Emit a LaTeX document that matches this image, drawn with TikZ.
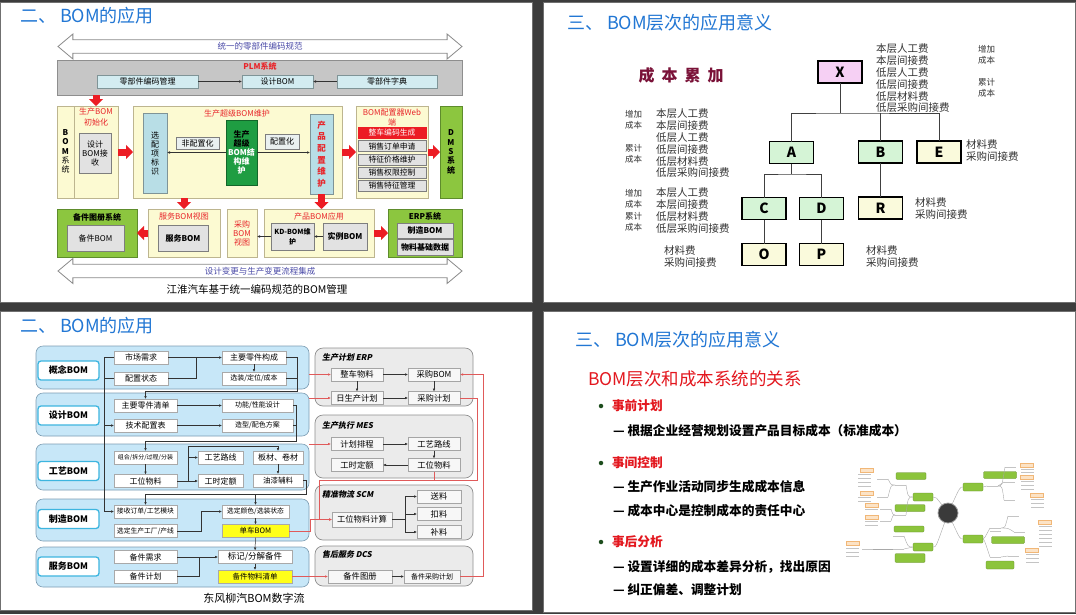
\documentclass[tikz,border=0pt]{standalone}
\usepackage{fontspec}
\setmainfont{Noto Sans CJK SC}
\newfontfamily\slfont[FakeSlant=0.2]{Noto Sans CJK SC}
\usetikzlibrary{arrows.meta, positioning, shapes.arrows, calc}

\definecolor{PageGray}{HTML}{3C3C3C}
\definecolor{PanelEdge}{HTML}{707070}
\definecolor{TitleBlue}{HTML}{2277D4}
\definecolor{YelFill}{HTML}{FCFAD2}
\definecolor{YelEdge}{HTML}{BDB58F}
\definecolor{CyFill}{HTML}{D3ECF1}
\definecolor{CyDeep}{HTML}{B8DEE6}
\definecolor{CyEdge}{HTML}{7F9497}
\definecolor{GyFill}{HTML}{E2E2E2}
\definecolor{GyLite}{HTML}{EAF0F0}
\definecolor{GyEdge}{HTML}{7E7E7E}
\definecolor{PlmGray}{HTML}{C6C6C6}
\definecolor{PlmEdge}{HTML}{8E8E8E}
\definecolor{GrFill}{HTML}{8CC63F}
\definecolor{GrEdge}{HTML}{5E8C2C}
\definecolor{CoreGreen}{HTML}{1F9D42}
\definecolor{CoreEdge}{HTML}{14662A}
\definecolor{ArrowRed}{HTML}{EC1C24}
\definecolor{RedTxt}{HTML}{E8262B}
\definecolor{PurpleTxt}{HTML}{4B4BA8}
\definecolor{HollowEdge}{HTML}{8A8A8A}
\definecolor{Maroon}{HTML}{7A1238}
\definecolor{TreeGreen}{HTML}{D5F4D6}
\definecolor{TreeYellow}{HTML}{FAFADC}
\definecolor{TreePink}{HTML}{F6D0F4}
\definecolor{CostGray}{HTML}{333333}
\definecolor{BandBlue}{HTML}{C7E7F8}
\definecolor{BandEdge}{HTML}{7D9DB3}
\definecolor{LvlEdge}{HTML}{3DB5DF}
\definecolor{WEdge}{HTML}{A9A9A9}
\definecolor{HiYellow}{HTML}{FFFF1A}
\definecolor{SysGray}{HTML}{EBEBEB}
\definecolor{SysEdge}{HTML}{8F8F8F}
\definecolor{GbxFill}{HTML}{F7F7F7}
\definecolor{GbxEdge}{HTML}{A5A5A5}
\definecolor{RedLine}{HTML}{E05A5A}
\definecolor{SubRed}{HTML}{E3171E}
\definecolor{DotGreen}{HTML}{1D4D1D}
\definecolor{MapGreen}{HTML}{8CC43C}
\definecolor{MapOrange}{HTML}{FCE3C6}
\definecolor{MapOrEdge}{HTML}{F1B777}
\definecolor{MapTxt}{HTML}{C4C4C4}
\definecolor{MapLine}{HTML}{A8A8A8}
\definecolor{MapDark}{HTML}{3A3A3A}

\newcommand{\fsz}[2]{\fontsize{#1}{#2}\selectfont}

\begin{document}
\begin{tikzpicture}[x=1pt, y=-1pt,
    every node/.style={inner sep=0pt, outer sep=0pt},
    panel/.style={fill=white, draw=PanelEdge, line width=0.8pt},
    slidetitle/.style={anchor=west, text=TitleBlue, font=\fsz{18}{21}},
    ylbox/.style={draw=YelEdge, fill=YelFill, line width=0.6pt},
    cybox/.style={draw=CyEdge, fill=CyFill, line width=0.5pt, font=\fsz{8}{9}},
    gybox/.style={draw=GyEdge, fill=GyFill, line width=0.5pt, font=\fsz{8}{9}},
    grbox/.style={draw=GrEdge, fill=GrFill, line width=0.6pt},
    redhead/.style={text=RedTxt, font=\fsz{8}{10.5}},
    hollow/.style={double arrow, draw=HollowEdge, fill=white, line width=0.8pt, inner ysep=2pt,
                   minimum height=404, minimum width=25, double arrow head extend=5.5,
                   double arrow tip angle=80, text=PurpleTxt, font=\fsz{8.5}{10}},
    blockarr/.style={draw=ArrowRed, line width=7pt, -{Triangle[length=7pt, width=14pt]}},
    conn/.style={draw=black!80, line width=0.5pt},
    arr/.style={-{Latex[length=3pt, width=2.6pt]}},
    redln/.style={draw=RedLine, line width=0.6pt},
    treebox/.style={draw=black, line width=1.2pt, minimum width=44, minimum height=22,
                    font=\bfseries\fsz{14}{16}},
    treeln/.style={draw=black!75, line width=0.8pt},
    cost/.style={anchor=west, align=left, text=CostGray, font=\fsz{10.5}{11.8}},
    costsm/.style={anchor=west, align=left, text=CostGray, font=\fsz{8.5}{11}},
    band/.style={rounded corners=7pt, fill=BandBlue, draw=BandEdge, line width=0.6pt,
                 minimum width=273},
    lvl/.style={rounded corners=3pt, fill=white, draw=LvlEdge, line width=1.3pt,
                minimum width=61, minimum height=19, font=\bfseries\fsz{9}{10}},
    wbox/.style={fill=white, draw=WEdge, line width=0.5pt, minimum height=13, font=\fsz{8}{9}},
    sysbox/.style={rounded corners=8pt, fill=SysGray, draw=SysEdge, line width=0.7pt,
                   minimum width=158},
    systitle/.style={anchor=west, font=\slfont\bfseries\fsz{8}{9}},
    gbx/.style={fill=GbxFill, draw=GbxEdge, line width=0.5pt, minimum height=13,
                font=\fsz{8.3}{9}},
    bhead/.style={anchor=west, text=SubRed, font=\bfseries\fsz{12.7}{14}},
    bline/.style={anchor=west, font=\bfseries\fsz{12.7}{14}},
    mapg/.style={fill=MapGreen, draw=MapGreen!70!black, line width=0.3pt, rounded corners=1pt},
    mapo/.style={fill=MapOrange, draw=MapOrEdge, line width=0.3pt, minimum width=13,
                 minimum height=4.5},
    mapln/.style={draw=MapLine, line width=0.4pt},
    maptxt/.style={draw=MapTxt, line width=1pt}
]
\useasboundingbox (0,0) rectangle (1076,614);
\fill[PageGray] (0,0) rectangle (1076,614);
\draw[panel] (0.5,2) rectangle (532,302);
\draw[panel] (543,2) rectangle (1075.5,302);
\draw[panel] (0.5,311) rectangle (532,610);
\draw[panel] (543,311) rectangle (1075.5,612);

% top left slide
\node[slidetitle] (tl-title) at (20,16) {二、 BOM的应用};
\node[hollow] (std) at (260,46.5) {统一的零部件编码规范};
\node[draw=PlmEdge, fill=PlmGray, line width=0.6pt, minimum width=405, minimum height=35] (plm) at (259.5,77.5) {};
\node[text=RedTxt, font=\bfseries\fsz{8}{9}] (plm-t) at (260,66) {PLM系统};
\node[cybox, minimum width=101, minimum height=13] (code) at (147.5,81.5) {零部件编码管理};
\node[cybox, minimum width=71, minimum height=13] (dbom) at (277.5,81.5) {设计BOM};
\node[cybox, minimum width=100, minimum height=13] (dict) at (387,81.5) {零部件字典};
\draw[conn, arr] (code) -- (dbom);
\draw[conn, arr] (dict) -- (dbom);

\node[ylbox, minimum width=61, minimum height=92] (bomsys) at (87.5,152) {};
\draw[draw=YelEdge, line width=0.6pt] ($(bomsys.north west)+(17,0)$) -- ($(bomsys.south west)+(17,0)$);
\node[align=center, font=\bfseries\fsz{8}{9.3}] (bomsys-t) at (65.5,151.5) {B\\O\\M\\\mdseries 系\\\mdseries 统};
\node[redhead, align=center] (init) at (96,117) {生产BOM\\初始化};
\node[gybox, minimum width=32, minimum height=40, align=center] (recv) at (95,153) {设计\\BOM接\\收};
\draw[blockarr] (plm.south -| init) -- (init |- bomsys.north);

\node[ylbox, minimum width=209, minimum height=92] (super) at (237.5,152) {};
\node[redhead] (super-t) at (237,113) {生产超级BOM维护};
\node[cybox, fill=CyDeep, minimum width=24, minimum height=80, align=center] (xpx) at (155,153) {选\\配\\项\\标\\识};
\node[gybox, fill=GyLite, minimum width=43, minimum height=12] (nonc) at (197.5,143) {非配置化};
\node[draw=CoreEdge, fill=CoreGreen, minimum width=31, minimum height=65, align=center, font=\bfseries\fsz{8}{9}] (core) at (241.5,152.5)
  {生产\\超级\\\textcolor{white}{BOM结}\\\textcolor{white}{构维}\\\textcolor{white}{护}};
\node[gybox, fill=GyLite, minimum width=34, minimum height=15] (conf) at (282,141.5) {配置化};
\node[cybox, fill=CyDeep, minimum width=23, minimum height=80, align=center, text=RedTxt, font=\bfseries\fsz{8.5}{11.6}] (cpcf) at (321.5,154) {产\\品\\配\\置\\维\\护};
\draw[conn, arr] (core.west) -- (core.west -| xpx.east);
\draw[conn, arr] (core.east) -- (core.east -| cpcf.west);

\node[ylbox, minimum width=72, minimum height=92] (web) at (392,152) {};
\node[redhead, align=center] (web-t) at (392,117.5) {BOM配置器Web\\端};
\node[draw=ArrowRed, fill=ArrowRed, text=white, minimum width=68, minimum height=11, font=\fsz{7.8}{9}] (w1) at (392,133) {整车编码生成};
\node[gybox, minimum width=68, minimum height=11, font=\fsz{7.8}{9}, below=2.2pt of w1] (w2) {销售订单申请};
\node[gybox, minimum width=68, minimum height=11, font=\fsz{7.8}{9}, below=2.2pt of w2] (w3) {特征价格维护};
\node[gybox, minimum width=68, minimum height=11, font=\fsz{7.8}{9}, below=2.2pt of w3] (w4) {销售权限控制};
\node[gybox, minimum width=68, minimum height=11, font=\fsz{7.8}{9}, below=2.2pt of w4] (w5) {销售特征管理};
\node[grbox, minimum width=22, minimum height=92, align=center, font=\bfseries\fsz{8}{9.3}] (dms) at (451,152) {D\\M\\S\\系\\统};
\draw[blockarr] (bomsys) -- (super);
\draw[blockarr] (super) -- (web);
\draw[blockarr] (web) -- (dms);

\node[grbox, minimum width=80, minimum height=48] (bjsys) at (97,233) {};
\node[font=\bfseries\fsz{8}{9}] (bjsys-t) at (97,217) {备件图册系统};
\node[gybox, minimum width=57, minimum height=26] (bjbom) at (95.5,238) {备件BOM};
\node[ylbox, minimum width=72, minimum height=48] (fwview) at (184,233) {};
\node[redhead] (fwview-t) at (184,216) {服务BOM视图};
\node[gybox, minimum width=50, minimum height=26, font=\bfseries\fsz{8}{9}] (fwbom) at (183,238) {服务BOM};
\node[ylbox, minimum width=30, minimum height=48, align=center, text=RedTxt, font=\fsz{8}{9}] (cgview) at (242,233) {采购\\BOM\\视图};
\node[ylbox, minimum width=110, minimum height=48] (cpapp) at (319,233) {};
\node[redhead] (cpapp-t) at (319,216) {产品BOM应用};
\node[gybox, minimum width=43, minimum height=27, align=center, font=\bfseries\fsz{7}{10}] (kd) at (292.5,236.5) {KD-BOM维\\护};
\node[gybox, minimum width=44, minimum height=27, font=\bfseries\fsz{8}{9}] (slbom) at (345,236.5) {实例BOM};
\node[grbox, minimum width=74, minimum height=48] (erp) at (425,233) {};
\node[font=\bfseries\fsz{8}{9}] (erp-t) at (425,216) {ERP系统};
\node[gybox, minimum width=56, minimum height=15, font=\bfseries\fsz{8}{9}] (zzbom) at (425,230.5) {制造BOM};
\node[gybox, minimum width=56, minimum height=16, font=\bfseries\fsz{8}{9}] (wlsj) at (425,247) {物料基础数据};
\draw[conn, arr] (slbom) -- (kd);
\draw[conn, arr] (kd.west) -- (kd.west -| cgview.east);
\draw[blockarr] (fwview.north |- super.south) -- (fwview.north);
\draw[blockarr] (cpcf.south) -- (cpcf.south |- cpapp.north);
\draw[blockarr] (fwview) -- (bjsys);
\draw[blockarr] (cpapp) -- (erp);
\node[hollow] (flow) at (260,271) {设计变更与生产变更流程集成};
\node[font=\fsz{10.5}{12}] (tl-cap) at (257,289) {江淮汽车基于统一编码规范的BOM管理};

% top right slide
\node[slidetitle] (tr-title) at (567,23) {三、 BOM层次的应用意义};
\node[text=Maroon, font=\bfseries\fsz{16}{18}] (sum) at (681,75) {成\kern7pt 本\kern7pt 累\kern7pt 加};
\node[treebox, fill=TreePink] (X) at (840,72) {X};
\node[treebox, fill=TreeGreen] (A) at (791.5,152.5) {A};
\node[treebox, fill=TreeGreen] (B) at (880.5,152) {B};
\node[treebox, fill=TreeYellow] (E) at (939,152) {E};
\node[treebox, fill=TreeGreen] (C) at (764,208.5) {C};
\node[treebox, fill=TreeGreen] (D) at (821.5,208.5) {D};
\node[treebox, fill=TreeYellow] (R) at (880.5,208) {R};
\node[treebox, fill=TreeYellow] (O) at (764,254.5) {O};
\node[treebox, fill=TreeYellow] (P) at (821.5,254.5) {P};
\coordinate (xbus) at (840,113);
\coordinate (abus) at (791.5,174);
\draw[treeln] (X) -- (xbus);
\draw[treeln] (A) |- (xbus) -| (E);
\draw[treeln] (B) -- (B |- xbus);
\draw[treeln] (A) -- (abus);
\draw[treeln] (C) |- (abus) -| (D);
\draw[treeln] (B) -- (R);
\draw[treeln] (C) -- (O);
\draw[treeln] (D) -- (P);

\node[cost] (x-cost) at (876,78.5) {本层人工费\\本层间接费\\低层人工费\\低层间接费\\低层材料费\\低层采购间接费};
\node[costsm] (x-add) at (978,54.5) {增加\\成本};
\node[costsm] (x-acc) at (978,88) {累计\\成本};
\node[cost] (a-cost) at (656,143.5) {本层人工费\\本层间接费\\低层人工费\\低层间接费\\低层材料费\\低层采购间接费};
\node[costsm] (a-add) at (625,119.5) {增加\\成本};
\node[costsm] (a-acc) at (625,153.5) {累计\\成本};
\node[cost, font=\fsz{10.5}{12}] (c-cost) at (656,211) {本层人工费\\本层间接费\\低层材料费\\低层采购间接费};
\node[costsm] (c-add) at (625,198.5) {增加\\成本};
\node[costsm] (c-acc) at (625,222) {累计\\成本};
\node[cost, font=\fsz{10.5}{12}] (o-cost) at (664,257) {材料费\\采购间接费};
\node[cost, font=\fsz{10.5}{12}] (e-cost) at (966,150.5) {材料费\\采购间接费};
\node[cost, font=\fsz{10.5}{12}] (r-cost) at (915,208.5) {材料费\\采购间接费};
\node[cost, font=\fsz{10.5}{12}] (p-cost) at (866,256.5) {材料费\\采购间接费};

% bottom left slide
\node[slidetitle] (bl-title) at (20,326) {二、 BOM的应用};
\node[band, minimum height=43] (r1) at (172.5,367.5) {};
\node[band, minimum height=43] (r2) at (172.5,414.5) {};
\node[band, minimum height=46] (r3) at (172.5,467) {};
\node[band, minimum height=42] (r4) at (172.5,520) {};
\node[band, minimum height=40] (r5) at (172.5,567) {};
\node[lvl] (l1) at (68.5,370.5) {概念BOM};
\node[lvl] (l2) at (68.5,415.5) {设计BOM};
\node[lvl] (l3) at (68.5,471) {工艺BOM};
\node[lvl] (l4) at (68.5,519) {制造BOM};
\node[lvl] (l5) at (68.5,566.5) {服务BOM};

\node[wbox, minimum width=54] (sc) at (141,357.5) {市场需求};
\node[wbox, minimum width=54] (pz) at (141,378.5) {配置状态};
\node[wbox, minimum width=64] (zy) at (254,357.5) {主要零件构成};
\node[wbox, minimum width=64, font=\fsz{7}{8}] (xz) at (254,378.5) {选装/定位/成本};
\node[wbox, minimum width=63] (qd) at (145.5,405.5) {主要零件清单};
\node[wbox, minimum width=63] (js) at (145.5,425.5) {技术配置表};
\node[wbox, minimum width=71, font=\fsz{7}{8}] (gn) at (257.5,405.5) {功能/性能设计};
\node[wbox, minimum width=71, font=\fsz{7}{8}] (zx) at (257.5,425.5) {造型/配色方案};
\node[wbox, minimum width=63, font=\fsz{6}{7}] (zh) at (145.5,457.5) {组合/拆分/过程/分装};
\node[wbox, minimum width=63] (gw) at (145.5,481) {工位物料};
\node[wbox, minimum width=45] (gl) at (220.5,457.5) {工艺路线};
\node[wbox, minimum width=45] (gs) at (220.5,481) {工时定额};
\node[wbox, minimum width=50] (bc) at (278,457.5) {板材、卷材};
\node[wbox, minimum width=50, font=\fsz{7.5}{8}] (yq) at (278,480.5) {油漆辅料};
\node[wbox, minimum width=63, font=\fsz{6.8}{8}] (jd) at (145.5,511.5) {接收订单/工艺模块};
\node[wbox, minimum width=63, font=\fsz{6.8}{8}] (xsc) at (145.5,531) {选定生产工厂/产线};
\node[wbox, minimum width=67, font=\fsz{6.8}{8}] (xs) at (255.5,511.5) {选定颜色/选装状态};
\node[wbox, minimum width=67, fill=HiYellow, font=\fsz{7.5}{8}] (dc) at (255.5,531) {单车BOM};
\node[wbox, minimum width=63] (bjxq) at (145.5,557) {备件需求};
\node[wbox, minimum width=63] (bjjh) at (145.5,576.5) {备件计划};
\node[wbox, minimum width=74, font=\fsz{8.5}{9}] (bjfj) at (255,557) {标记/分解备件};
\node[wbox, minimum width=74, fill=HiYellow, font=\fsz{7.5}{8}] (bjqd) at (255,576.5) {备件物料清单};

\coordinate (j1) at (196,357.5);
\coordinate (b1) at (297,391);
\coordinate (vl) at (104,357.5);
\coordinate (b2) at (296,441);
\coordinate (j3) at (188,481);
\coordinate (j3t) at (188,446);
\coordinate (b3) at (306,494);
\coordinate (j4) at (201,531);
\coordinate (j5) at (199,557);
\draw[conn] (sc.east) -- (j1);
\draw[conn, arr] (pz.east) -| (j1) -- (zy.west);
\draw[conn, arr] (zy) -- (xz);
\draw[conn] (xz.east) -- (xz.east -| b1);
\draw[conn, arr] (zy.east) -| (b1) -| (qd.north);
\draw[conn, arr] (sc.west) -- (vl) |- (jd.west);
\draw[conn] (pz.west) -- (pz.west -| vl);
\draw[conn, arr] (vl |- js.west) -- (js.west);
\draw[conn, arr] (qd) -- (gn);
\draw[conn, arr] (js) -- (zx);
\draw[conn] (zx.east) -- (zx.east -| b2);
\draw[conn, arr] (gn.east) -| (b2) -| (zh.north);
\draw[conn, arr] (zh) -- (gw);
\draw[conn, arr] (gw) -- (gs);
\draw[conn, arr] (j3) |- (gl.west);
\draw[conn, arr] (j3) -- (j3t) -| (bc.north);
\draw[conn, arr] (bc) -- (yq);
\draw[conn, arr] (yq.east) -| (b3) -| (jd.north);
\draw[conn, arr] (xs.north |- b3) -- (xs.north);
\draw[conn, arr] (xsc.east) -- (j4) |- (xs.west);
\draw[conn, arr] (xs) -- (dc);
\draw[conn, arr] (dc) -- (bjfj);
\draw[conn] (bjjh.east) -| (j5);
\draw[conn, arr] (bjxq.east) -- (bjfj.west);
\draw[conn, arr] (bjfj) -- (bjqd);

\node[sysbox, minimum height=58] (erp2) at (394,377) {};
\node[systitle] (erp2-t) at (322,357) {生产计划 ERP};
\node[gbx, minimum width=52] (zcwl) at (357,374.5) {整车物料};
\node[gbx, minimum width=52] (cgbom) at (434,374.5) {采购BOM};
\node[gbx, minimum width=52] (rsc) at (357,398) {日生产计划};
\node[gbx, minimum width=52] (cgjh) at (434,398) {采购计划};
\node[sysbox, minimum height=63] (mes) at (394,446.5) {};
\node[systitle] (mes-t) at (322,425) {生产执行 MES};
\node[gbx, minimum width=52] (jhpc) at (357,444) {计划排程};
\node[gbx, minimum width=52] (gylx) at (434,444) {工艺路线};
\node[gbx, minimum width=52] (gsde) at (357,465) {工时定额};
\node[gbx, minimum width=52] (gwl) at (434,465) {工位物料};
\node[sysbox, minimum height=55] (scm) at (394,512.5) {};
\node[systitle] (scm-t) at (322,494) {精准物流 SCM};
\node[gbx, minimum width=60, minimum height=15] (gwjs) at (362,519.5) {工位物料计算};
\node[gbx, minimum width=44] (sl) at (439,496.5) {送料};
\node[gbx, minimum width=44] (kl) at (439,514) {扣料};
\node[gbx, minimum width=44] (bl) at (439,532) {补料};
\node[sysbox, minimum height=40] (dcs) at (394,566) {};
\node[systitle] (dcs-t) at (322,554) {售后服务 DCS};
\node[gbx, minimum width=64] (bjtc) at (360,576.5) {备件图册};
\node[gbx, minimum width=56, font=\fsz{7}{8}] (bjcg) at (432,576.5) {备件采购计划};

\draw[conn, arr] (zcwl) -- (cgbom);
\draw[conn, arr] (zcwl) -- (rsc);
\draw[conn, arr] (cgbom) -- (cgjh);
\draw[conn, arr] (rsc) -- (cgjh);
\draw[conn, arr] (jhpc) -- (gylx);
\draw[conn, arr] (gylx) -- (gwl);
\draw[conn, arr] (gwl) -- (gsde);
\coordinate (fk) at (405,519.5);
\draw[conn] (gwjs) -- (fk);
\draw[conn, arr] (fk) |- (sl.west);
\draw[conn, arr] (fk) |- (kl.west);
\draw[conn, arr] (fk) |- (bl.west);
\draw[conn, arr] (bjtc) -- (bjcg);

\coordinate (rj1) at (310,519.5);
\coordinate (rbus) at (477,480);
\coordinate (rbusl) at (319,480);
\coordinate (rr) at (483,576.5);
\draw[redln, arr] (r1.east |- zcwl.west) -- (zcwl.west);
\draw[redln, arr] (r2.east |- rsc.west) -- (rsc.west);
\draw[redln, arr] (r3.north east) -- (jhpc.west);
\draw[redln, arr] (dc.east) -| (rj1) -- (gwjs.west);
\draw[redln, arr] (cgjh.east) -| (rbus) -- (rbusl) |- (gwjs.west);
\draw[redln] (gwl.south) -- (gwl.south |- rbus);
\draw[redln, arr] (bjqd.east) -- (bjtc.west);
\draw[redln, arr] (bjcg.east) -- (rr) |- (cgbom.east);
\node[font=\fsz{11}{12}] (bl-cap) at (254,598) {东风柳汽BOM数字流};

% bottom right slide
\node[slidetitle] (br-title) at (575,340) {三、 BOM层次的应用意义};
\node[anchor=west, text=SubRed, font=\fsz{17.5}{20}] (rel) at (588,379) {BOM层次和成本系统的关系};
\node[circle, fill=DotGreen, minimum size=4.5] (d1) at (601,406) {};
\node[circle, fill=DotGreen, minimum size=4.5] (d2) at (601,463) {};
\node[circle, fill=DotGreen, minimum size=4.5] (d3) at (601,542) {};
\node[bhead] (h1) at (612,406) {事前计划};
\node[bline] (s1) at (613,431) {— 根据企业经营规划设置产品目标成本（标准成本）};
\node[bhead] (h2) at (612,463) {事间控制};
\node[bline] (s2) at (613,487) {— 生产作业活动同步生成成本信息};
\node[bline] (s3) at (613,511) {— 成本中心是控制成本的责任中心};
\node[bhead] (h3) at (612,542) {事后分析};
\node[bline] (s4) at (613,567) {— 设置详细的成本差异分析，找出原因};
\node[bline] (s5) at (613,590) {— 纠正偏差、调整计划};

% mind map thumbnail
\node[circle, fill=MapDark, draw=MapDark!50, line width=0.8pt, minimum size=20] (mc) at (948,513) {};
\node[mapg, minimum width=20, minimum height=8] (ml1) at (923,497) {};
\node[mapg, minimum width=20, minimum height=8] (ml2) at (923,547) {};
\node[mapg, minimum width=20, minimum height=8] (mr1) at (973,487) {};
\node[mapg, minimum width=20, minimum height=8] (mr2) at (973,539) {};
\node[mapg, minimum width=30, minimum height=7] (mb1) at (911,476) {};
\node[mapg, minimum width=30, minimum height=7] (mb2) at (910,508) {};
\node[mapg, minimum width=30, minimum height=6] (mb3) at (909,529) {};
\node[mapg, minimum width=30, minimum height=9] (mb4) at (910,558) {};
\node[mapg, minimum width=33, minimum height=7] (mb5) at (1000,475) {};
\node[mapg, minimum width=33, minimum height=7] (mb6) at (1008,540) {};
\node[mapg, minimum width=28, minimum height=8] (mb7) at (1000,565) {};
\draw[mapln] (mc) .. controls (936,497) .. (ml1);
\draw[mapln] (mc) .. controls (936,547) .. (ml2);
\draw[mapln] (mc) .. controls (960,487) .. (mr1);
\draw[mapln] (mc) .. controls (960,539) .. (mr2);
\foreach \ox/\oy [count=\k] in {867/470, 867/493, 872/505, 872/517, 853/543, 1027/465, 1027/477, 1037/495, 1045/522, 1032/550}
  \node[mapo] (mo\k) at (\ox,\oy) {};
\foreach \lx/\ly in {858/474, 858/478, 858/482, 858/486, 858/497, 858/501, 865/509, 865/521, 865/525,
                     846/548, 846/552, 846/556, 1021/469, 1021/472, 1021/481, 1021/485, 1021/489,
                     1031/499, 1031/503, 1031/507, 1039/526, 1039/530, 1039/534, 1039/538, 1039/542,
                     1039/546, 1026/554, 1026/558, 1026/562}
  \draw[maptxt] (\lx,\ly) -- ++(13,0);
\foreach \lx/\ly in {877/479, 877/497, 880/509, 880/521, 862/549, 895/485, 895/515, 893/536, 893/549,
                     987/486, 1005/467, 1004/482, 1004/500, 990/528, 990/531, 990/557, 1008/516, 1014/532, 1008/556}
  \draw[maptxt, line width=0.8pt] (\lx,\ly) -- ++(11,0);
\draw[mapln] (ml1.west) .. controls (908,497) .. (906,485);
\draw[mapln] (ml1.west) .. controls (908,497) .. (906,515);
\draw[mapln] (895,485) .. controls (891,485) .. (888,479);
\draw[mapln] (895,485) .. controls (891,485) .. (888,497);
\draw[mapln] (895,515) .. controls (893,515) .. (891,509);
\draw[mapln] (895,515) .. controls (893,515) .. (891,521);
\draw[mapln] (ml2.west) .. controls (908,547) .. (904,536);
\draw[mapln] (ml2.west) -- (904,549);
\draw[mapln] (893,549) -- (873,549);
\draw[mapln] (mr1.east) -- (987,486);
\draw[mapln] (998,486) .. controls (1002,486) .. (1005,467);
\draw[mapln] (998,486) -- (1004,482);
\draw[mapln] (998,486) .. controls (1002,486) .. (1004,500);
\draw[mapln] (mr2.east) .. controls (984,539) .. (990,528);
\draw[mapln] (mr2.east) .. controls (984,539) .. (990,557);
\draw[mapln] (1001,528) .. controls (1005,528) .. (1008,516);
\draw[mapln] (1001,528) .. controls (1008,528) .. (1014,532);
\draw[mapln] (1001,557) -- (1008,556);
\end{tikzpicture}
\end{document}
